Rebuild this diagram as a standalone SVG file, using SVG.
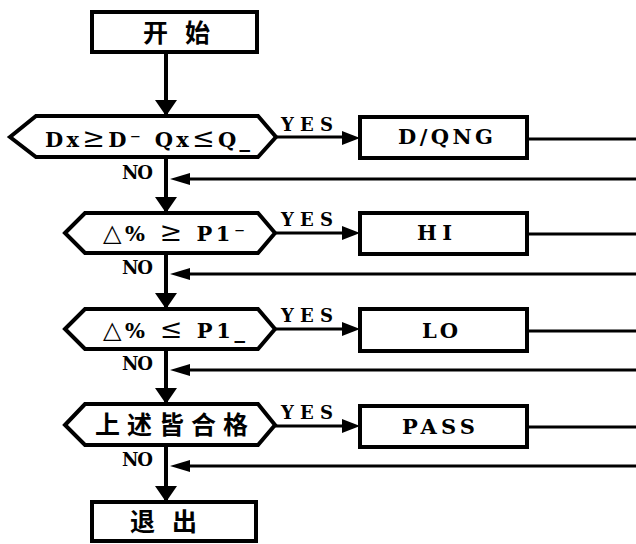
<svg xmlns="http://www.w3.org/2000/svg" width="636" height="544" viewBox="0 0 636 544">
<style>
.box{fill:#fff;stroke:#000;stroke-width:4}
.dec{fill:#fff;stroke:#000;stroke-width:4;stroke-linejoin:miter}
.t{font-family:"DejaVu Serif","Noto Sans CJK SC",serif;font-weight:bold;font-size:21px;fill:#000}
.sym{font-size:27px;font-weight:normal}
.cn{font-family:"Noto Sans CJK SC",sans-serif;font-weight:bold;font-size:25px;fill:#000}
.lbl{font-family:"DejaVu Serif",serif;font-weight:bold;font-size:18px;fill:#000}
.v{stroke:#000;stroke-width:4;fill:none}
.h{stroke:#000;stroke-width:3;fill:none}
.ah{fill:#000}
</style>
<rect width="636" height="544" fill="#fff"/>
<g id="connectors">
<line class="v" x1="166" y1="52" x2="166" y2="503"/>
<polygon class="ah" points="155,100 177,100 166,116"/>
<polygon class="ah" points="155,197 177,197 166,213"/>
<polygon class="ah" points="155,293 177,293 166,309"/>
<polygon class="ah" points="155,388 177,388 166,404"/>
<polygon class="ah" points="155,486 177,486 166,502"/>
<line class="h" x1="276" y1="137" x2="345" y2="137"/>
<polygon class="ah" points="342,131 360,138 342,145"/>
<line class="h" x1="275" y1="233" x2="345" y2="233"/>
<polygon class="ah" points="342,226 360,233 342,240"/>
<line class="h" x1="275" y1="329" x2="345" y2="329"/>
<polygon class="ah" points="342,322 360,329 342,336"/>
<line class="h" x1="275" y1="426" x2="345" y2="426"/>
<polygon class="ah" points="342,419 360,426 342,433"/>
<line class="h" x1="527" y1="139" x2="636" y2="139"/>
<line class="h" x1="527" y1="234" x2="636" y2="234"/>
<line class="h" x1="527" y1="331" x2="636" y2="331"/>
<line class="h" x1="527" y1="427" x2="636" y2="427"/>
<line class="h" x1="636" y1="179" x2="185" y2="179"/>
<polygon class="ah" points="190,173 170,179 190,185"/>
<line class="h" x1="636" y1="274" x2="185" y2="274"/>
<polygon class="ah" points="190,268 170,274 190,280"/>
<line class="h" x1="636" y1="370" x2="185" y2="370"/>
<polygon class="ah" points="190,364 170,370 190,376"/>
<line class="h" x1="636" y1="466" x2="185" y2="466"/>
<polygon class="ah" points="190,460 170,466 190,472"/>
<text class="lbl" x="281" y="131" textLength="52" lengthAdjust="spacing">YES</text>
<text class="lbl" x="281" y="226" textLength="52" lengthAdjust="spacing">YES</text>
<text class="lbl" x="281" y="322" textLength="52" lengthAdjust="spacing">YES</text>
<text class="lbl" x="281" y="419" textLength="52" lengthAdjust="spacing">YES</text>
<text class="lbl" x="122" y="179" font-size="17" textLength="31" lengthAdjust="spacing">NO</text>
<text class="lbl" x="122" y="274" font-size="17" textLength="31" lengthAdjust="spacing">NO</text>
<text class="lbl" x="122" y="370" font-size="17" textLength="31" lengthAdjust="spacing">NO</text>
<text class="lbl" x="122" y="466" font-size="17" textLength="31" lengthAdjust="spacing">NO</text>
</g>
<g id="start">
<rect class="box" x="92" y="12" width="165" height="40"/>
<text class="cn" x="143" y="42" textLength="67" lengthAdjust="spacing">开始</text>
</g>
<g id="dec1">
<polygon class="dec" points="10,137 36,116 258,116 276,137 258,157 36,157"/>
<text class="t" x="45" y="147" textLength="205" lengthAdjust="spacing">Dx<tspan class="sym">≥</tspan>D⁻ Qx<tspan class="sym">≤</tspan>Q_</text>
</g>
<g id="dqng">
<rect class="box" x="360" y="117" width="167" height="41"/>
<text class="t" x="398" y="144" textLength="95" lengthAdjust="spacing">D/QNG</text>
</g>
<g id="dec2">
<polygon class="dec" points="65,233 85,213 258,213 275,233 258,253 85,253"/>
<text class="t" x="103" y="241" textLength="142" lengthAdjust="spacing"><tspan font-size="24">△</tspan>% <tspan class="sym">≥</tspan> P1⁻</text>
</g>
<g id="hi">
<rect class="box" x="360" y="213" width="167" height="41"/>
<text class="t" x="417" y="240" textLength="35" lengthAdjust="spacing">HI</text>
</g>
<g id="dec3">
<polygon class="dec" points="65,329 85,309 258,309 275,329 258,349 85,349"/>
<text class="t" x="103" y="338" textLength="142" lengthAdjust="spacing"><tspan font-size="24">△</tspan>% <tspan class="sym">≤</tspan> P1_</text>
</g>
<g id="lo">
<rect class="box" x="360" y="309" width="167" height="42"/>
<text class="t" x="422" y="338" textLength="36" lengthAdjust="spacing">LO</text>
</g>
<g id="dec4">
<polygon class="dec" points="65,425 85,404 258,404 275,425 258,445 85,445"/>
<text class="cn" x="95" y="434" textLength="153" lengthAdjust="spacing">上述皆合格</text>
</g>
<g id="pass">
<rect class="box" x="360" y="406" width="167" height="41"/>
<text class="t" x="402" y="434" textLength="73" lengthAdjust="spacing">PASS</text>
</g>
<g id="exit">
<rect class="box" x="92" y="502" width="164" height="39"/>
<text class="cn" x="130" y="531" textLength="67" lengthAdjust="spacing">退出</text>
</g>
</svg>
